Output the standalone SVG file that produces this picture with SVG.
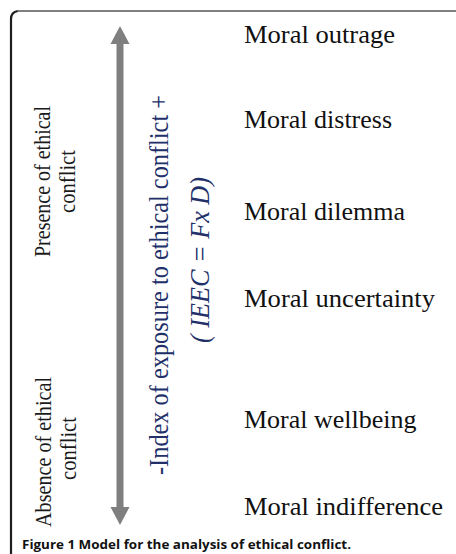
<svg xmlns="http://www.w3.org/2000/svg" width="456" height="554" viewBox="0 0 456 554">
<style>
.lvl{font-family:"Liberation Serif","Times New Roman",serif;font-size:26px;fill:#111}
.side{font-family:"Liberation Serif","Times New Roman",serif;font-size:24px;fill:#1a1a1a;text-anchor:middle}
.axis{font-family:"Liberation Serif","Times New Roman",serif;font-size:27px;fill:#22306a;text-anchor:middle}
.cap{font-family:"Open Sans","Liberation Sans",sans-serif;font-size:12.5px;font-weight:bold;fill:#111}
.arrow{fill:#7f7f7f}
</style>
<rect width="456" height="554" fill="#fff"/>
<g id="frame">
<path d="M11 554 V19 Q11 12 18 11" fill="none" stroke="#1e1e1e" stroke-width="2.2"/>
<path d="M17 11 H456" fill="none" stroke="#555" stroke-width="1.6"/>
</g>
<g id="connectors">
<g id="axis-arrow" class="arrow">
<rect x="116.5" y="43" width="7" height="465"/>
<polygon points="120,26 110.5,44 129.5,44"/>
<polygon points="120,525 110.5,507 129.5,507"/>
</g>
</g>
<g id="axis-label">
<text class="axis" transform="translate(168,285) rotate(-90)" textLength="380" lengthAdjust="spacingAndGlyphs">-Index of exposure to ethical conflict +</text>
<text class="axis" transform="translate(209,260) rotate(-90)" font-style="italic" textLength="166" lengthAdjust="spacingAndGlyphs">( IEEC = Fx D)</text>
</g>
<g id="presence">
<text class="side" transform="translate(50,181.5) rotate(-90)" textLength="151" lengthAdjust="spacingAndGlyphs">Presence of ethical</text>
<text class="side" transform="translate(75,181.5) rotate(-90)" textLength="63" lengthAdjust="spacingAndGlyphs">conflict</text>
</g>
<g id="absence">
<text class="side" transform="translate(51,452) rotate(-90)" textLength="150" lengthAdjust="spacingAndGlyphs">Absence of ethical</text>
<text class="side" transform="translate(76,448.5) rotate(-90)" textLength="63" lengthAdjust="spacingAndGlyphs">conflict</text>
</g>
<g id="outrage"><text class="lvl" x="244" y="43" textLength="151" lengthAdjust="spacingAndGlyphs">Moral outrage</text></g>
<g id="distress"><text class="lvl" x="244" y="128">Moral distress</text></g>
<g id="dilemma"><text class="lvl" x="244" y="220">Moral dilemma</text></g>
<g id="uncertainty"><text class="lvl" x="244" y="307" textLength="191" lengthAdjust="spacingAndGlyphs">Moral uncertainty</text></g>
<g id="wellbeing"><text class="lvl" x="244" y="428">Moral wellbeing</text></g>
<g id="indifference"><text class="lvl" x="244" y="515" textLength="199" lengthAdjust="spacingAndGlyphs">Moral indifference</text></g>
<g id="caption"><text class="cap" x="22" y="549" textLength="329" lengthAdjust="spacingAndGlyphs">Figure 1 Model for the analysis of ethical conflict.</text></g>
</svg>
